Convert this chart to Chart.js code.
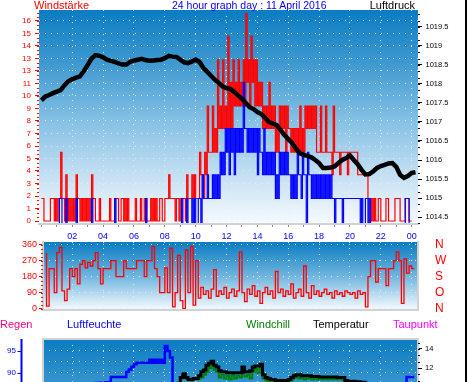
<!DOCTYPE html>
<html><head><meta charset="utf-8">
<script src="https://cdn.jsdelivr.net/npm/chart.js@4.4.1/dist/chart.umd.min.js"></script>
<style>
html,body{margin:0;padding:0;background:#fff;width:470px;height:382px;overflow:hidden;position:relative;font-family:"Liberation Sans",Arial,sans-serif;}
canvas{position:absolute;left:0;top:0;}
.t{position:absolute;font-size:11px;line-height:11px;white-space:nowrap;}
</style></head><body>
<canvas id="c1" width="470" height="382"></canvas>
<canvas id="c2" width="470" height="382"></canvas>
<canvas id="c3" width="470" height="430"></canvas>
<div class="t" style="left:34px;top:0px;color:#ff0000">Windstärke</div>
<div class="t" style="left:172px;top:0px;color:#0000ff;font-size:10.5px">24 hour graph day : 11 April 2016</div>
<div class="t" style="right:55px;top:0px;color:#000">Luftdruck</div>
<div class="t" style="left:0px;top:319px;color:#ff0080">Regen</div>
<div class="t" style="left:67px;top:319px;color:#0000ff">Luftfeuchte</div>
<div class="t" style="left:246px;top:319px;color:#008000">Windchill</div>
<div class="t" style="left:313px;top:319px;color:#000">Temperatur</div>
<div class="t" style="left:393px;top:319px;color:#ff00ff">Taupunkt</div>
<div style="position:absolute;left:465px;top:0;width:2px;height:382px;background:#000"></div>
<script>
// ---------- data ----------
// wind gust and mean wind, one sample every 5 minutes (12 per hour row)
const gust = [
1.8,1.8,1.8,0,0,0,0,0,1.8,1.8,1.8,0,
1.8,0,1.8,1.8,5.5,1.8,1.8,0,3.7,0,1.8,0,
1.8,0,1.8,0,3.7,1.8,1.8,0,1.8,0,1.8,0,
1.8,0,1.8,0,3.7,1.8,1.8,0,0,0,1.8,0,
0,0,0,0,0,0,1.8,0,0,0,1.8,1.8,
1.8,0,0,1.8,1.8,0,1.8,0,1.8,0,0,0,
0,0,1.8,0,0,0,1.8,0,0,1.8,1.8,0,
0,0,1.8,0,1.8,0,1.8,0,0,1.8,1.8,0,
0,1.8,1.8,1.8,3.7,1.8,1.8,1.8,1.8,0,1.8,1.8,
0,1.8,1.8,1.8,1.8,0,3.7,1.8,1.8,1.8,3.7,1.8,
3.7,1.8,1.8,1.8,5.5,3.7,3.7,1.8,5.5,3.7,9.2,5.5,
5.5,5.5,9.2,5.5,7.4,5.5,12.9,7.4,9.2,7.4,12.9,7.4,
9.2,7.4,14.8,7.4,11.1,7.4,12.9,9.2,11.1,9.2,12.9,9.2,
11.1,9.2,12.9,9.2,16.6,11.1,12.9,9.2,14.8,11.1,12.9,9.2,
12.9,9.2,11.1,9.2,11.1,7.4,9.2,7.4,9.2,7.4,11.1,7.4,
9.2,7.4,9.2,5.5,7.4,5.5,9.2,7.4,9.2,7.4,9.2,5.5,
9.2,7.4,7.4,5.5,7.4,5.5,7.4,5.5,7.4,5.5,9.2,5.5,
7.4,5.5,9.2,7.4,9.2,7.4,9.2,7.4,9.2,7.4,9.2,5.5,
5.5,5.5,9.2,5.5,5.5,5.5,9.2,5.5,5.5,5.5,5.5,3.7,
9.2,5.5,5.5,5.5,5.5,3.7,5.5,5.5,5.5,5.5,5.5,3.7,
5.5,5.5,5.5,5.5,5.5,5.5,5.5,3.7,3.7,3.7,3.7,3.7,
3.7,3.7,3.7,1.8,1.8,0,1.8,0,1.8,0,0,1.8,
1.8,0,0,0,0,1.8,1.8,0,0,0,0,0,
1.8,1.8,1.8,1.8,0,0,0,0,1.8,1.8,1.8,0,
0];
const wind = [
-0.2,-0.2,-0.2,-0.2,-0.2,-0.2,-0.2,-0.2,-0.2,-0.2,-0.2,-0.2,
-0.2,-0.2,-0.2,1.8,1.8,-0.2,-0.2,-0.2,1.8,-0.2,-0.2,-0.2,
-0.2,-0.2,-0.2,-0.2,1.8,-0.2,-0.2,-0.2,-0.2,-0.2,-0.2,-0.2,
-0.2,-0.2,-0.2,-0.2,1.8,-0.2,-0.2,-0.2,-0.2,-0.2,-0.2,-0.2,
-0.2,-0.2,-0.2,-0.2,-0.2,-0.2,-0.2,-0.2,-0.2,-0.2,1.8,-0.2,
-0.2,-0.2,-0.2,-0.2,-0.2,-0.2,-0.2,-0.2,-0.2,-0.2,-0.2,-0.2,
-0.2,-0.2,-0.2,-0.2,-0.2,-0.2,-0.2,-0.2,-0.2,-0.2,1.8,-0.2,
-0.2,-0.2,-0.2,-0.2,-0.2,-0.2,-0.2,-0.2,-0.2,-0.2,-0.2,-0.2,
-0.2,-0.2,-0.2,-0.2,-0.2,-0.2,-0.2,-0.2,-0.2,-0.2,-0.2,-0.2,
-0.2,-0.2,1.8,-0.2,-0.2,-0.2,1.8,-0.2,-0.2,-0.2,1.8,-0.2,
1.8,-0.2,-0.2,1.8,1.8,-0.2,3.7,1.8,1.8,1.8,3.7,1.8,
1.8,1.8,3.7,1.8,3.7,1.8,3.7,1.8,5.5,3.7,5.5,3.7,
7.4,5.5,7.4,3.7,7.4,5.5,7.4,3.7,7.4,5.5,7.4,5.5,
7.4,5.5,11.1,7.4,7.4,5.5,7.4,5.5,7.4,5.5,7.4,5.5,
7.4,3.7,7.4,5.5,5.5,3.7,7.4,3.7,5.5,3.7,5.5,3.7,
5.5,3.7,5.5,1.8,3.7,1.8,5.5,3.7,5.5,3.7,5.5,3.7,
5.5,3.7,3.7,1.8,3.7,1.8,3.7,1.8,5.5,3.7,3.7,1.8,
5.5,3.7,3.7,-0.2,5.5,3.7,3.7,1.8,3.7,1.8,3.7,1.8,
3.7,1.8,3.7,1.8,3.7,1.8,3.7,1.8,3.7,1.8,3.7,1.8,
1.8,-0.2,1.8,1.8,1.8,1.8,1.8,-0.2,1.8,1.8,1.8,1.8,
1.8,1.8,1.8,1.8,1.8,1.8,1.8,1.8,1.8,-0.2,1.8,-0.2,
-0.2,1.8,1.8,-0.2,1.8,-0.2,-0.2,-0.2,-0.2,-0.2,-0.2,-0.2,
-0.2,-0.2,-0.2,-0.2,-0.2,-0.2,-0.2,-0.2,-0.2,-0.2,-0.2,-0.2,
-0.2,-0.2,-0.2,-0.2,-0.2,-0.2,-0.2,-0.2,1.8,1.8,1.8,-0.2,
-0.2];
// pressure every 15 minutes (hours = index/4)
const pressure = [
1017.57,1017.67,1017.71,1017.76,1017.80,1017.84,1017.97,1018.07,1018.13,1018.17,
1018.20,1018.34,1018.50,1018.67,1018.76,1018.74,1018.70,1018.64,1018.61,1018.58,
1018.54,1018.51,1018.51,1018.58,1018.62,1018.64,1018.66,1018.63,1018.61,1018.62,
1018.63,1018.64,1018.68,1018.74,1018.72,1018.71,1018.64,1018.57,1018.55,1018.59,
1018.64,1018.58,1018.42,1018.32,1018.21,1018.11,1018.03,1017.93,1017.89,1017.87,
1017.79,1017.70,1017.61,1017.50,1017.39,1017.34,1017.26,1017.21,1017.11,1017.00,
1016.96,1016.92,1016.79,1016.66,1016.55,1016.45,1016.30,1016.18,1016.13,1016.11,
1016.07,1016.00,1015.92,1015.79,1015.79,1015.80,1015.83,1015.92,1016.00,1016.05,
1016.12,1016.00,1015.89,1015.74,1015.62,1015.63,1015.70,1015.79,1015.84,1015.87,
1015.91,1015.92,1015.82,1015.61,1015.53,1015.58,1015.66,1015.68];
// wind direction every 10 minutes (degrees)
const dir = [
null,null,315,15,225,225,90,315,345,100,
45,110,225,180,225,140,250,270,230,260,
240,270,315,225,140,225,225,225,270,270,
180,180,180,270,225,225,225,225,270,270,
270,180,270,270,350,225,180,90,90,230,
90,340,10,90,300,45,0,330,90,350,
20,270,60,120,80,100,60,110,220,70,
100,80,120,60,90,110,70,100,320,90,
40,110,80,130,70,100,30,90,120,80,
100,60,210,90,110,70,100,80,140,60,
90,110,70,240,90,60,130,80,100,70,
90,110,80,90,60,100,80,90,70,100,
90,80,90,60,100,80,90,10,180,270,
270,150,225,225,225,130,225,225,270,320,
270,30,280,200,240,225];
// humidity / temperature / windchill every 10 minutes
const hum = [
86.0,86.1,86.2,86.3,86.3,86.4,86.5,86.6,86.7,86.8,
86.9,87.0,87.0,87.1,87.2,87.3,87.3,87.4,87.5,87.5,
87.6,87.6,87.7,87.7,87.8,87.8,87.9,87.9,89.1,89.1,
89.1,89.1,89.1,89.1,90.2,90.8,91.4,92.0,92.3,92.3,
92.3,92.3,92.3,93.0,92.3,93.0,92.3,93.0,92.3,96.1,
95.0,93.5,86.0,84,82,81,80,79,78,77,
76,75,74,73,72,72,71,71,70,70,
70,70,71,71,71,72,72,72,73,73,
73,74,74,75,75,76,76,77,77,78,
78,78,79,79,79,80,80,80,80,81,
81,81,81,81,82,82,82,82,82,82,
82,83,83,83,83,83,83,83,84,84,
84,84,84,84,84,85,85,85,85,86,
86,86,86,86,87,87,87,87,87,87,
87.5,87.5,87.5,89.1,89.1,89.1];
const temp = [
7.5,7.4,7.3,7.3,7.2,7.1,7.0,7.0,6.9,6.9,
6.8,6.8,6.7,6.7,6.6,6.6,6.6,6.5,6.5,6.5,
6.5,6.6,6.6,6.7,6.7,6.8,6.9,7.0,7.1,7.2,
7.3,7.4,7.5,7.6,7.8,7.9,8.0,8.2,8.3,8.5,
8.6,8.8,8.9,9.0,9.2,9.3,9.5,9.6,9.8,9.9,
10.0,10.1,10.2,10.3,10.4,11.0,11.4,11.0,10.8,10.8,
10.9,10.9,11.2,11.6,11.8,12.3,12.5,12.7,12.3,12.1,
11.7,11.6,11.6,11.5,11.5,11.5,11.5,11.5,11.5,12.1,
11.6,11.6,11.7,12.1,12.2,12.2,12.4,11.3,11.0,10.9,
10.8,10.8,10.7,10.7,10.7,10.7,10.7,10.8,11.0,11.2,
11.3,11.3,11.2,11.2,11.2,11.2,11.1,11.1,11.1,11.05,
11.05,11.05,11.05,11.05,11.05,11.05,11.0,11.0,11.0,10.7,
10.6,10.6,10.6,10.55,10.55,10.5,10.5,10.3,10.1,10.0,
9.9,9.8,9.7,9.6,9.5,9.4,9.3,9.2,9.1,9.0,
8.9,8.8,8.7,8.6,8.5,8.4];
const chill = [
7.5,7.4,7.3,7.3,7.2,7.1,7.0,7.0,6.9,6.9,
6.8,6.8,6.7,6.7,6.6,6.6,6.6,6.5,6.5,6.5,
6.5,6.6,6.6,6.7,6.7,6.8,6.9,7.0,7.1,7.2,
7.3,7.4,7.5,7.6,7.8,7.9,8.0,8.2,8.3,8.5,
8.6,8.8,8.9,9.0,9.2,9.3,9.5,9.6,9.8,9.9,
10.0,10.1,10.2,10.3,10.4,10.9,11.2,10.9,10.7,10.7,
10.8,10.8,10.9,11.0,11.3,11.6,12.0,12.3,11.8,11.6,
11.0,11.3,10.9,11.2,10.8,11.3,10.9,11.2,11.0,11.8,
11.1,11.3,10.9,11.6,11.9,11.5,12.1,10.9,10.7,10.6,
10.5,10.6,10.5,10.6,10.5,10.6,10.5,10.6,10.8,11.0,
11.1,10.9,11.0,10.8,11.0,10.9,10.8,10.9,10.8,10.9,
10.8,10.9,10.8,10.9,10.8,10.9,10.8,10.9,10.8,10.5,
10.4,10.5,10.4,10.4,10.3,10.4,10.3,10.1,9.9,9.9,
9.8,9.7,9.6,9.5,9.4,9.3,9.2,9.1,9.0,8.9,
8.8,8.7,8.6,8.5,8.4,8.3];
// dew point hourly
const dew = [5.4,5.3,5.2,5.2,5.1,5.0,5.0,5.1,5.4,6.0,6.8,7.2,7.4,7.5,7.3,7.2,7.0,7.1,7.2,7.1,7.0,6.9,6.8,6.8,6.9];

// tick labels
const hourTicks = [0,1,2,3,4,5,6,7,8,9,10,11,12,13,14,15,16,17,18,19,20,21,22,23,24];
const labelHours = [2,4,6,8,10,12,14,16,18,20,22,24];
const hourLabels = ['02','04','06','08','10','12','14','16','18','20','22','00'];
const windTicks = [0,1,2,3,4,5,6,7,8,9,10,11,12,13,14,15,16];
const windLabels = ['0','1','2','3','4','5','6','7','8','9','10','11','13','13','14','15','16'];
const pressTicks = [1014.5,1015,1015.5,1016,1016.5,1017,1017.5,1018,1018.5,1019,1019.5];
const pressLabels = ['1014.5','1015','1015.5','1016','1016.5','1017','1017.5','1018','1018.5','1019','1019.5'];
const dirTicks = [0,90,180,270,360];
const dirLabels = ['0','90','180','270','360'];
const compassLabels = ['N','O','S','W','N'];
const humTicks = [90,92.5,95];
const humLabels = ['90','','95'];
const tempTicks = [12,14];
const tempLabels = ['12','14'];

// ---------- helpers ----------
const pts = (arr, step) => arr.map((v,i)=>({x:i*step, y:v}));
Chart.defaults.font.family = '"Liberation Sans", Arial, sans-serif';
const DOT = 'rgba(228,238,246,0.95)';
const setTicks = vals => s => { s.ticks = vals.map(v=>({value:v})); };
const fixW = w => s => { s.width = w; s.paddingTop = 0; s.paddingBottom = 0; };
const fixH = h => s => { s.height = h; s.paddingLeft = 0; s.paddingRight = 0; };
const lab = (vals, labels) => v => { const i = vals.indexOf(v); return i >= 0 ? labels[i] : ''; };
const evenGrid = ctx => (ctx.tick && ctx.tick.value > 0 && ctx.tick.value % 2 === 0) ? DOT : 'rgba(0,0,0,0)';

const bg = {id:'bg', beforeDraw(chart, args, o){
  const {ctx, chartArea:a} = chart;
  const g = ctx.createLinearGradient(0, a.top, 0, a.top + (o.h || (a.bottom - a.top)));
  o.stops.forEach(s => g.addColorStop(s[0], s[1]));
  ctx.save(); ctx.fillStyle = g; ctx.fillRect(a.left, a.top, a.right - a.left, a.bottom - a.top); ctx.restore();
}};
const deco = {id:'deco', afterDatasetsDraw(chart, args, o){
  const {ctx, chartArea:a} = chart;
  ctx.save();
  ctx.strokeStyle = '#d2d2d2'; ctx.lineWidth = 2;
  (o.frame || []).forEach(side => {
    ctx.beginPath();
    if (side === 'top') { ctx.moveTo(a.left - 1, a.top); ctx.lineTo(a.right + 1, a.top); }
    if (side === 'bottom') { ctx.moveTo(a.left - 1, a.bottom); ctx.lineTo(a.right + 1, a.bottom); }
    if (side === 'left') { ctx.moveTo(a.left, a.top - 1); ctx.lineTo(a.left, a.bottom + 1); }
    if (side === 'right') { ctx.moveTo(a.right, a.top - 1); ctx.lineTo(a.right, a.bottom + 1); }
    ctx.stroke();
  });
  ctx.lineWidth = 1;
  (o.minor || []).forEach(m => {
    const s = chart.scales[m.axis];
    ctx.strokeStyle = m.color;
    const k0 = Math.ceil(s.min / m.step), k1 = Math.floor(s.max / m.step);
    for (let k = k0; k <= k1; k++) {
      const y = Math.round(s.getPixelForValue(k * m.step)) + 0.5;
      ctx.beginPath();
      if (m.side === 'left') { ctx.moveTo(a.left - m.len, y); ctx.lineTo(a.left, y); }
      else { ctx.moveTo(a.right, y); ctx.lineTo(a.right + m.len, y); }
      ctx.stroke();
    }
  });
  if (o.hAxis) {
    const s = chart.scales[o.hAxis.axis];
    ctx.strokeStyle = o.hAxis.color; ctx.lineWidth = 2;
    ctx.beginPath(); ctx.moveTo(o.hAxis.x, a.top); ctx.lineTo(o.hAxis.x, chart.height); ctx.stroke();
    ctx.lineWidth = 1;
    o.hAxis.ticks.forEach(v => {
      const y = Math.round(s.getPixelForValue(v)) + 0.5;
      ctx.beginPath(); ctx.moveTo(o.hAxis.x - 4, y); ctx.lineTo(o.hAxis.x, y); ctx.stroke();
    });
  }
  ctx.restore();
}};
const STOPS = [[0,'#0a7cc2'],[0.25,'#3f99d1'],[0.5,'#80bee3'],[0.75,'#bfddf1'],[1,'#f7fbfe']];
const base = {responsive:false, animation:false, devicePixelRatio:1, events:[]};

// ---------- panel 1 : wind speed / gust / pressure ----------
new Chart(document.getElementById('c1'), {
  type:'line',
  data:{datasets:[
    {data:pts(pressure,0.25), yAxisID:'yP', borderColor:'#000', borderWidth:4.5, pointRadius:0, tension:0},
    {data:pts(wind,1/12), yAxisID:'yW', borderColor:'#0000ff', borderWidth:1.2, pointRadius:0, stepped:'after'},
    {data:pts(gust,1/12), yAxisID:'yW', borderColor:'#ff0000', borderWidth:1.2, pointRadius:0, stepped:'after'}
  ]},
  plugins:[bg, deco],
  options:Object.assign({}, base, {
    layout:{padding:{left:0,right:0,top:10,bottom:138}},
    plugins:{legend:{display:false}, tooltip:{enabled:false},
      bg:{stops:STOPS},
      deco:{frame:['bottom'], minor:[{axis:'yW',step:1/3,side:'left',len:2,color:'#ff0000'},{axis:'yP',step:1/6,side:'right',len:2,color:'#000'}]}},
    scales:{
      x:{type:'linear', min:-0.156, max:24.41, bounds:'data', afterBuildTicks:setTicks(hourTicks), afterFit:fixH(20),
         ticks:{autoSkip:false, maxRotation:0, padding:4, color:'#0000ff', font:{size:9}, callback:lab(labelHours,hourLabels)},
         grid:{color:evenGrid, tickColor:'#8a8a8a', tickLength:3, tickBorderDash:[]}, border:{display:false, dash:[1,5]}},
      yW:{type:'linear', position:'left', min:-0.24, max:16.88, bounds:'data', afterBuildTicks:setTicks(windTicks), afterFit:fixW(39),
         ticks:{autoSkip:false, color:'#ff0000', font:{size:8}, padding:4, callback:lab(windTicks,windLabels)},
         grid:{color:DOT, tickColor:'#ff0000', tickLength:4, tickBorderDash:[]}, border:{display:false, dash:[1,5]}},
      yP:{type:'linear', position:'right', min:1014.316, max:1019.947, bounds:'data', afterBuildTicks:setTicks(pressTicks), afterFit:fixW(52),
         ticks:{autoSkip:false, color:'#000', font:{size:7.5}, padding:3.5, callback:lab(pressTicks,pressLabels)},
         grid:{drawOnChartArea:false, tickColor:'#000', tickLength:4}, border:{display:false}}
    }
  })
});

// ---------- panel 2 : wind direction ----------
new Chart(document.getElementById('c2'), {
  type:'line',
  data:{datasets:[
    {data:pts(dir,1/6), yAxisID:'yD', borderColor:'#ff0000', borderWidth:1.3, pointRadius:0, stepped:'after', spanGaps:false}
  ]},
  plugins:[bg, deco],
  options:Object.assign({}, base, {
    layout:{padding:{left:0,right:0,top:242,bottom:72}},
    plugins:{legend:{display:false}, tooltip:{enabled:false},
      bg:{stops:[[0,'#0a7cc2'],[0.5,'#6fb5df'],[1,'#f7fbfe']]},
      deco:{frame:['left','right','bottom'], minor:[{axis:'yD',step:22.5,side:'left',len:2,color:'#ff0000'}]}},
    scales:{
      x:{type:'linear', min:0.104, max:24.41, bounds:'data', afterBuildTicks:setTicks(hourTicks), afterFit:fixH(0),
         ticks:{display:false}, grid:{color:evenGrid, drawTicks:false}, border:{display:false, dash:[1,5]}},
      yD:{type:'linear', position:'left', min:-7.3, max:375, bounds:'data', afterBuildTicks:setTicks(dirTicks), afterFit:fixW(43),
         ticks:{autoSkip:false, color:'#ff0000', font:{size:9}, padding:2, callback:lab(dirTicks,dirLabels)},
         grid:{color:DOT, tickColor:'#ff0000', tickLength:4, tickBorderDash:[]}, border:{display:false, dash:[1,5]}},
      yC:{type:'linear', position:'right', min:-7.3, max:375, bounds:'data', afterBuildTicks:setTicks(dirTicks), afterFit:fixW(52),
         ticks:{autoSkip:false, color:'#ff0000', font:{size:12}, padding:17, callback:lab(dirTicks,compassLabels)},
         grid:{drawOnChartArea:false, drawTicks:false}, border:{display:false}}
    }
  })
});

// ---------- panel 3 : humidity / temperature ----------
new Chart(document.getElementById('c3'), {
  type:'line',
  data:{datasets:[
    {data:pts(temp,1/6), yAxisID:'yT', borderColor:'#000', borderWidth:3, pointRadius:0, stepped:'after'},
    {data:pts(chill,1/6), yAxisID:'yT', borderColor:'#008000', borderWidth:2, pointRadius:0, stepped:'after'},
    {data:pts(hum,1/6), yAxisID:'yH', borderColor:'#0000ff', borderWidth:2.5, pointRadius:0, stepped:'after'},
    {data:pts(dew,1), yAxisID:'yT', borderColor:'#ff00ff', borderWidth:2, pointRadius:0}
  ]},
  plugins:[bg, deco],
  options:Object.assign({}, base, {
    layout:{padding:{left:0,right:0,top:339,bottom:48}},
    plugins:{legend:{display:false}, tooltip:{enabled:false},
      bg:{stops:STOPS, h:214},
      deco:{frame:['top','left','right'], minor:[{axis:'yT',step:2/3,side:'right',len:2,color:'#000'}],
            hAxis:{axis:'yH', x:21.5, color:'#0000ff', ticks:[90,95]}}},
    scales:{
      x:{type:'linear', min:0.104, max:24.41, bounds:'data', afterBuildTicks:setTicks(hourTicks), afterFit:fixH(0),
         ticks:{display:false}, grid:{color:evenGrid, drawTicks:false}, border:{display:false, dash:[1,5]}},
      yH:{type:'linear', position:'left', min:87.95, max:97.7, bounds:'data', afterBuildTicks:setTicks(humTicks), afterFit:fixW(43),
         ticks:{autoSkip:false, color:'#0000ff', font:{size:8}, padding:27, callback:lab(humTicks,humLabels)},
         grid:{color:DOT, drawTicks:false}, border:{display:false, dash:[1,5]}},
      yT:{type:'linear', position:'right', min:10.53, max:15.05, bounds:'data', afterBuildTicks:setTicks(tempTicks), afterFit:fixW(52),
         ticks:{autoSkip:false, color:'#000', font:{size:7.5}, padding:3, callback:lab(tempTicks,tempLabels)},
         grid:{drawOnChartArea:false, tickColor:'#000', tickLength:4}, border:{display:false}}
    }
  })
});
</script>
</body></html>
